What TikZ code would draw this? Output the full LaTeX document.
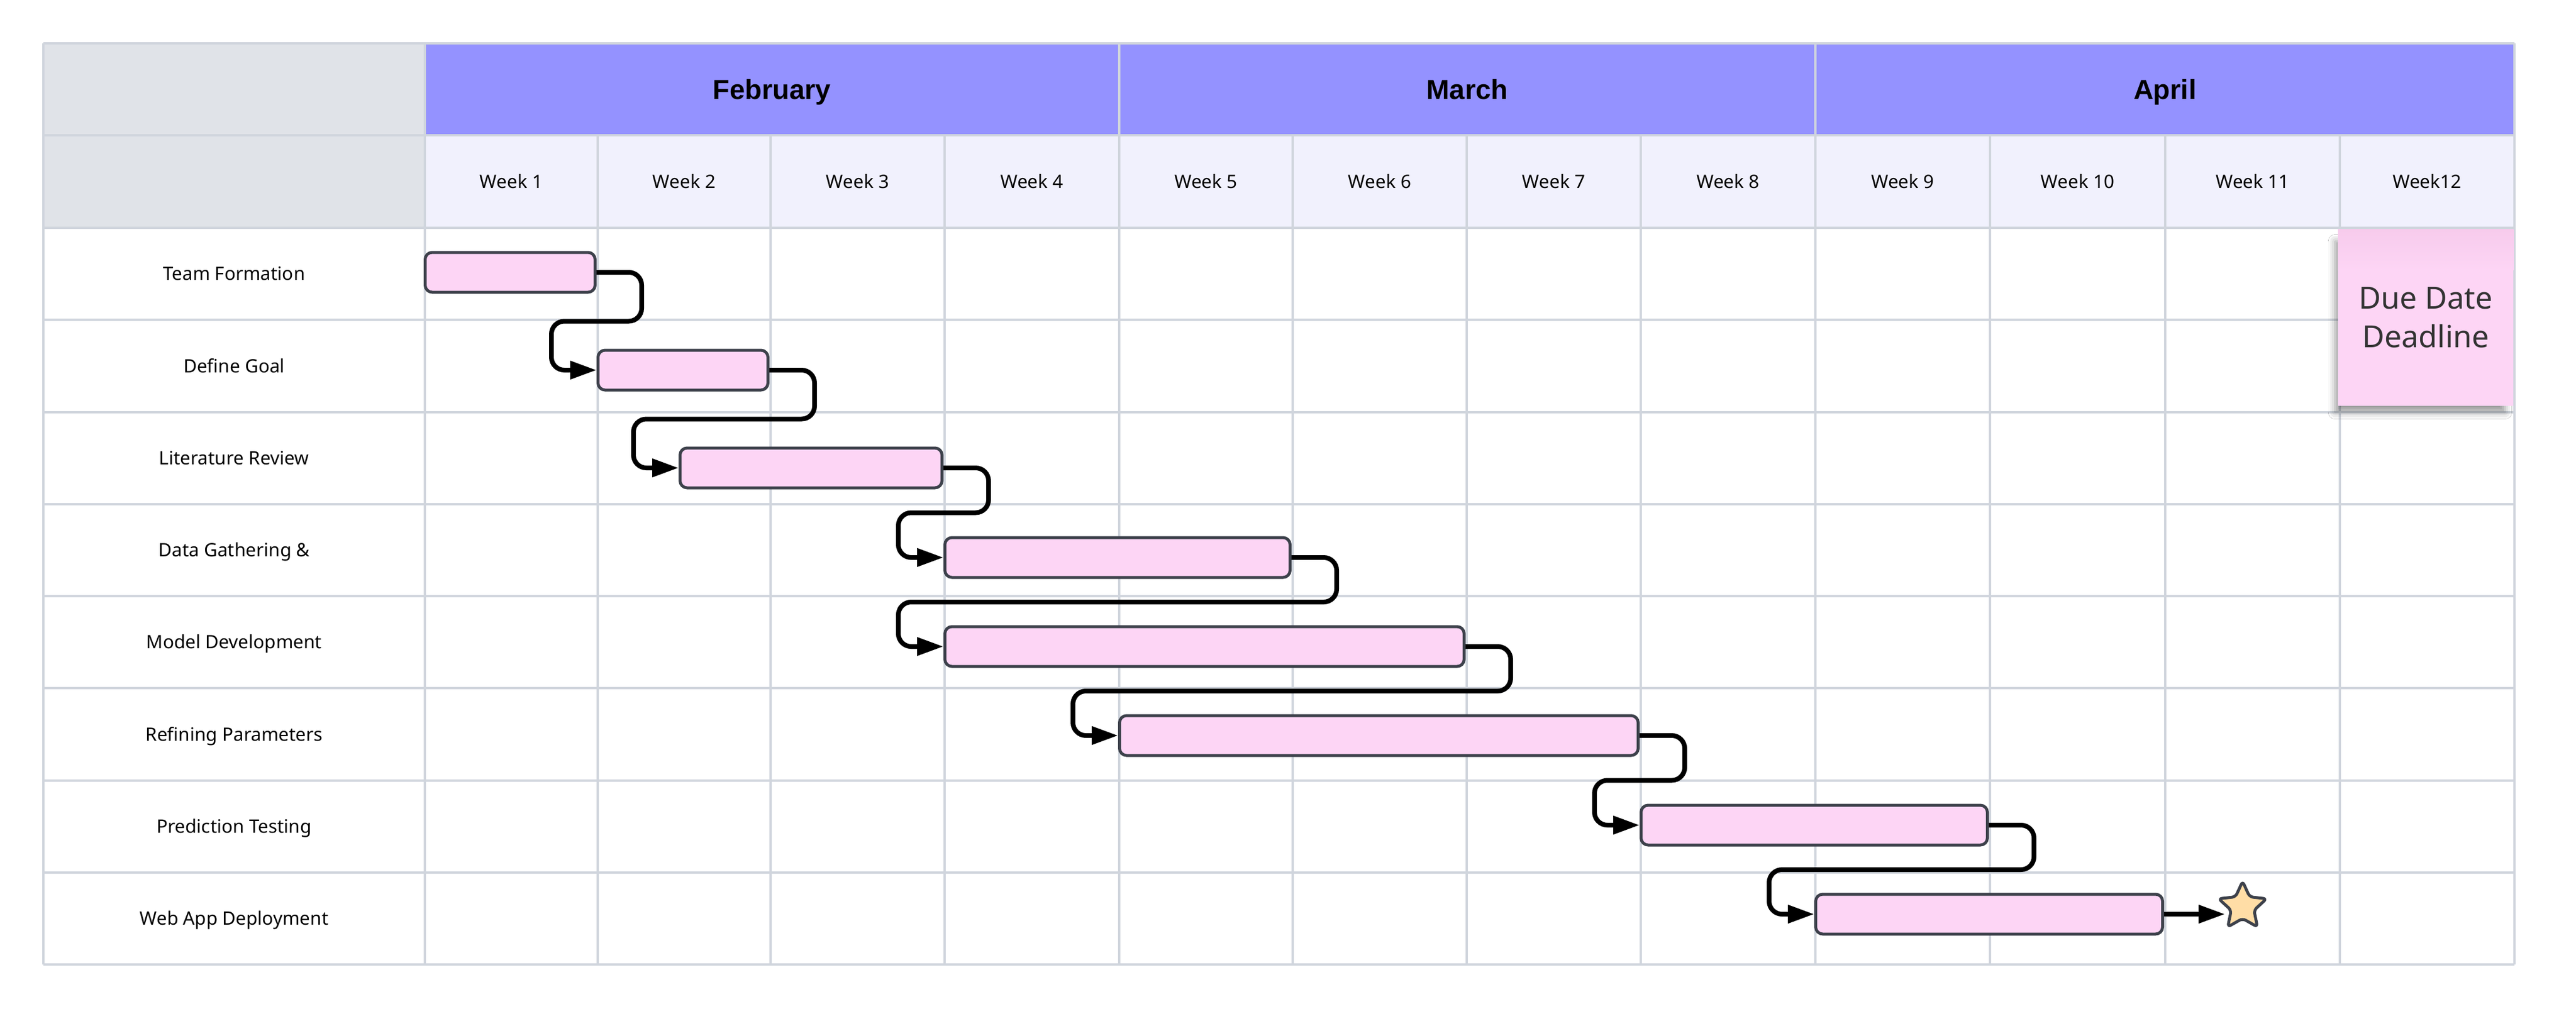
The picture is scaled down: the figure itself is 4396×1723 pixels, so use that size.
\documentclass[tikz,border=0pt]{standalone}
\usepackage{fontspec}
\setmainfont{Noto Sans}
\newfontfamily\monthfont{Liberation Sans}
\usetikzlibrary{arrows.meta,shapes.geometric,calc,shadows.blur}
\definecolor{hdrgray}{RGB}{224,227,232}
\definecolor{monthpurple}{RGB}{148,146,255}
\definecolor{weeklav}{RGB}{241,241,253}
\definecolor{gridc}{RGB}{208,213,221}
\definecolor{barfill}{RGB}{253,213,245}
\definecolor{barline}{RGB}{61,65,75}
\definecolor{starfill}{RGB}{255,221,166}
\definecolor{stickyfill}{RGB}{253,213,245}
\definecolor{stickytop}{RGB}{247,203,236}
\definecolor{stickytext}{RGB}{51,51,51}
\newcommand{\glink}[2]{\draw[conn] let \p1=(#1.east), \p2=(#2.west) in
  (\p1) -- (\x1+77pt,\y1) -- (\x1+77pt,{0.5*\y1+0.5*\y2}) -- (\x2-77pt,{0.5*\y1+0.5*\y2}) -- (\x2-77pt,\y2) -- (\p2);}
\begin{document}
\begin{tikzpicture}[x=1pt,y=-1pt,
  gridline/.style={draw=gridc,line width=4pt},
  monthlbl/.style={font=\monthfont\fontsize{47}{56}\selectfont\bfseries, text height=33.5pt, text depth=0pt, inner sep=0pt},
  weeklbl/.style={font=\fontsize{31.5}{38}\selectfont, text height=22.5pt, text depth=0pt, inner sep=0pt},
  tasklbl/.style={weeklbl},
  bar/.style={draw=barline, fill=barfill, line width=5pt, rounded corners=12pt, minimum height=68pt, inner sep=0pt},
  conn/.style={draw=black, line width=8pt, rounded corners=22pt, -{Triangle[length=45pt,width=30pt]}},
  sticky/.style={fill=stickyfill, minimum width=299pt, minimum height=301pt, inner sep=0pt, align=center,
    text=stickytext, font=\fontsize{52}{66}\selectfont,
    blur shadow={shadow xshift=-10pt, shadow yshift=-16pt, shadow blur radius=12pt, shadow opacity=40, shadow scale=0.97}},
  milestone/.style={star, star points=5, star point ratio=2.1, minimum size=86pt, inner sep=0pt,
    draw=barline, line width=5pt, fill=starfill, rounded corners=6pt}
]
\useasboundingbox (0,0) rectangle (4396,1723);
\fill[white] (0,0) rectangle (4396,1723);

% header fills
\fill[hdrgray] (74,74) rectangle (725,389);
\fill[monthpurple] (725,74) rectangle (4291,231);
\fill[weeklav] (725,231) rectangle (4291,389);

% grid
\foreach \y in {74,231,389,546.25,703.5,860.75,1018,1175.25,1332.5,1489.75,1647}
  \draw[gridline] (74,\y) -- (4291,\y);
\foreach \x in {74,725,1910,3098,4291}
  \draw[gridline] (\x,74) -- (\x,1647);
\foreach \x in {1020,1315,1612,2206,2503,2800,3396,3695,3993}
  \draw[gridline] (\x,231) -- (\x,1647);

% month labels
\node[monthlbl] (feb) at (1317.5,152.5) {February};
\node[monthlbl] (mar) at (2504,152.5) {March};
\node[monthlbl] (apr) at (3694.5,152.5) {April};

% week labels
\node[weeklbl] (w1) at (872.5,310) {Week 1};
\node[weeklbl] (w2) at (1167.5,310) {Week 2};
\node[weeklbl] (w3) at (1463.5,310) {Week 3};
\node[weeklbl] (w4) at (1761,310) {Week 4};
\node[weeklbl] (w5) at (2058,310) {Week 5};
\node[weeklbl] (w6) at (2354.5,310) {Week 6};
\node[weeklbl] (w7) at (2651.5,310) {Week 7};
\node[weeklbl] (w8) at (2949,310) {Week 8};
\node[weeklbl] (w9) at (3247,310) {Week 9};
\node[weeklbl] (w10) at (3545.5,310) {Week 10};
\node[weeklbl] (w11) at (3844,310) {Week 11};
\node[weeklbl] (w12) at (4142,310) {Week12};

% task labels
\node[tasklbl] (l1) at (399.5,467.6) {Team Formation};
\node[tasklbl] (l2) at (399.5,624.9) {Define Goal};
\node[tasklbl] (l3) at (399.5,782.1) {Literature Review};
\node[tasklbl] (l4) at (399.5,939.4) {Data Gathering \&};
\node[tasklbl] (l5) at (399.5,1096.6) {Model Development};
\node[tasklbl] (l6) at (399.5,1253.9) {Refining Parameters};
\node[tasklbl] (l7) at (399.5,1411.1) {Prediction Testing};
\node[tasklbl] (l8) at (399.5,1568.4) {Web App Deployment};

% bars (coordinates only)
\coordinate (c1) at (870.5,465);
\coordinate (c2) at (1165.5,632);
\coordinate (c3) at (1384,799);
\coordinate (c4) at (1907,952);
\coordinate (c5) at (2055.5,1104);
\coordinate (c6) at (2353,1256);
\coordinate (c7) at (3096,1409);
\coordinate (c8) at (3394.5,1561);
\path (c1) node[bar, minimum width=290pt, draw=none, fill=none] (b1) {};
\path (c2) node[bar, minimum width=290pt, draw=none, fill=none] (b2) {};
\path (c3) node[bar, minimum width=447pt, draw=none, fill=none] (b3) {};
\path (c4) node[bar, minimum width=589pt, draw=none, fill=none] (b4) {};
\path (c5) node[bar, minimum width=886pt, draw=none, fill=none] (b5) {};
\path (c6) node[bar, minimum width=885pt, draw=none, fill=none] (b6) {};
\path (c7) node[bar, minimum width=591pt, draw=none, fill=none] (b7) {};
\path (c8) node[bar, minimum width=592pt, draw=none, fill=none] (b8) {};

% star milestone
\node[milestone] (star) at (3827,1548) {};

% connectors
\glink{b1}{b2}
\glink{b2}{b3}
\glink{b3}{b4}
\glink{b4}{b5}
\glink{b5}{b6}
\glink{b6}{b7}
\glink{b7}{b8}
\draw[conn] (b8.east) -- (b8.east -| star.west);

% visible bars on top of connector starts
\foreach \i/\w in {1/290,2/290,3/447,4/589,5/886,6/885,7/591,8/592}
  \node[bar, minimum width=\w pt] at (c\i) {};

% sticky note
\node[sticky] (due) at (4139.5,542.5) {Due Date\\Deadline};
\shade[top color=stickytop, bottom color=stickyfill] (due.north west) rectangle ([yshift=-70pt]due.north east);
\end{tikzpicture}
\end{document}
